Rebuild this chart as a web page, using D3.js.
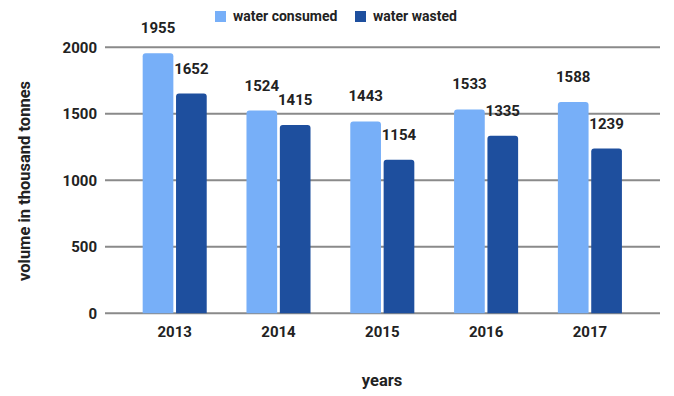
<!DOCTYPE html>
<html><head><meta charset="utf-8">
<script src="https://cdn.jsdelivr.net/npm/d3@7/dist/d3.min.js"></script>
<style>body{margin:0;background:#fff}svg{display:block;font-family:Roboto,"Noto Sans",sans-serif}</style>
</head><body><svg id="c" width="674" height="396"></svg>
<script>
const years = ["2013","2014","2015","2016","2017"];
const consumed = [1955,1524,1443,1533,1588];
const wasted = [1652,1415,1154,1335,1239];
const seriesNames = ["water consumed","water wasted"];
const yTicks = [0,500,1000,1500,2000];
const colors = ["#77aff8","#1e4f9e"];

const svg = d3.select("#c");
const y = d3.scaleLinear().domain([0,2000]).range([313.3,47.3]);
const x0 = d3.scaleBand().domain(years).range([122.8,641.8]).paddingInner(0.383).paddingOuter(0.1915);
const x1 = d3.scaleBand().domain(seriesNames).range([0,x0.bandwidth()]).paddingInner(0.08);

svg.append("g").selectAll("line").data(yTicks).join("line")
  .attr("x1",105).attr("x2",660).attr("y1",d=>y(d)).attr("y2",d=>y(d))
  .attr("stroke","#8a8a8a").attr("stroke-width",2);
svg.append("g").selectAll("text").data(yTicks).join("text")
  .attr("x",97).attr("y",d=>y(d)).attr("dy","0.35em").attr("text-anchor","end")
  .attr("font-size",15).attr("font-weight",700).attr("fill","#222").text(d=>d);

function roundTop(x,yT,w,h,r){
  r=Math.min(r,h);
  return `M${x},${yT+h}V${yT+r}Q${x},${yT} ${x+r},${yT}H${x+w-r}Q${x+w},${yT} ${x+w},${yT+r}V${yT+h}Z`;
}
const rows = years.map((yr,i)=>({yr, vals:[consumed[i],wasted[i]]}));
const g = svg.append("g").selectAll("g").data(rows).join("g")
  .attr("transform",d=>`translate(${x0(d.yr)},0)`);
g.selectAll("path").data(d=>d.vals.map((v,j)=>({v,j}))).join("path")
  .attr("d",d=>roundTop(x1(seriesNames[d.j]),y(d.v),x1.bandwidth(),y(0)-y(d.v),3))
  .attr("fill",d=>colors[d.j]);
g.selectAll("text").data(d=>d.vals.map((v,j)=>({v,j}))).join("text")
  .attr("x",d=>x1(seriesNames[d.j])+x1.bandwidth()/2).attr("y",d=>y(d.v)-20)
  .attr("text-anchor","middle").attr("font-size",15).attr("font-weight",700).attr("fill","#222")
  .text(d=>d.v);

svg.append("g").selectAll("text").data(years).join("text")
  .attr("x",d=>x0(d)+x0.bandwidth()/2).attr("y",332).attr("dy","0.35em").attr("text-anchor","middle")
  .attr("font-size",15).attr("font-weight",700).attr("fill","#222").text(d=>d);

svg.append("text").attr("transform","translate(30,181) rotate(-90)").attr("text-anchor","middle")
  .attr("font-size",16.5).attr("font-weight",700).attr("fill","#222").text("volume in thousand tonnes");
svg.append("text").attr("x",382).attr("y",380).attr("dy","0.35em").attr("text-anchor","middle")
  .attr("font-size",16.5).attr("font-weight",700).attr("fill","#222").text("years");

const legX = [215,355];
const lg = svg.append("g").selectAll("g").data(seriesNames).join("g")
  .attr("transform",(d,i)=>`translate(${legX[i]},11)`);
lg.append("rect").attr("width",11).attr("height",11).attr("fill",(d,i)=>colors[i]);
lg.append("text").attr("x",18).attr("y",5.5).attr("dy","0.35em")
  .attr("font-size",14).attr("font-weight",700).attr("fill","#222").text(d=>d);
</script></body></html>
